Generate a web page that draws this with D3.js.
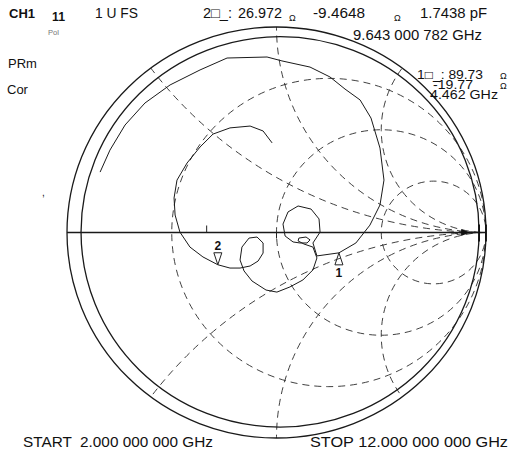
<!DOCTYPE html>
<html>
<head>
<meta charset="utf-8">
<script src="https://d3js.org/d3.v7.min.js"></script>
<style type="text/css">

  body{
    background: white;
    margin: 0px;
  }

  svg text{
    font-family: 'Liberation Sans', Arial, sans-serif;
    fill: #111;
    white-space: pre;
  }

  .rim{
    fill: none;
    stroke: #1a1a1a;
    stroke-width: 1.3;
  }

  .grid{
    fill: none;
    stroke: #2a2a2a;
    stroke-width: 0.9;
    stroke-dasharray: 7,5;
  }

  .trace{
    fill: none;
    stroke: #1a1a1a;
    stroke-width: 1;
    stroke-linejoin: round;
  }

</style>
</head>
<body>

<svg id="chart" width="513" height="455"></svg>

<script>

// smith chart grid (normalised resistance circles / reactance arcs)
var resistances = [1/3, 1, 3];
var reactances = [0.5, 1, 2, -0.5, -1, -2];

// second rim drawn by the plotter, in gamma units
var rimCenterRe = 0.017;
var rimCenterIm = 0.003;
var rimRadius = 0.95;

// S11 trace, reflection coefficient
var traceRe = [-0.842, -0.795, -0.723, -0.628, -0.508, -0.365, -0.236, -0.045, 0.026, 0.160,
               0.255, 0.327, 0.399, 0.451, 0.494, 0.513, 0.494, 0.446, 0.379, 0.298,
               0.193, 0.174, 0.208, 0.203, 0.165, 0.103, 0.055, 0.031, 0.041, 0.079,
               0.112, 0.146, 0.160, 0.141, 0.107, 0.103, 0.131, 0.174, 0.193, 0.174,
               0.126, 0.064, 0.002, -0.050, -0.117, -0.155, -0.174, -0.165, -0.131, -0.093,
               -0.064, -0.064, -0.088, -0.126, -0.174, -0.222, -0.280, -0.351, -0.413, -0.461,
               -0.484, -0.489, -0.475, -0.427, -0.365, -0.303, -0.222, -0.126, -0.064, -0.021];
var traceIm = [0.294, 0.401, 0.523, 0.630, 0.718, 0.791, 0.849, 0.854, 0.835, 0.805,
               0.757, 0.698, 0.645, 0.557, 0.411, 0.255, 0.134, 0.036, -0.051, -0.099,
               -0.114, -0.051, 0.002, 0.066, 0.114, 0.129, 0.100, 0.041, -0.017, -0.046,
               -0.051, -0.051, -0.036, -0.022, -0.027, -0.041, -0.056, -0.071, -0.124, -0.182,
               -0.231, -0.265, -0.290, -0.280, -0.236, -0.187, -0.134, -0.071, -0.027, -0.022,
               -0.051, -0.100, -0.139, -0.163, -0.173, -0.173, -0.157, -0.119, -0.071, 0.002,
               0.085, 0.168, 0.255, 0.338, 0.416, 0.479, 0.509, 0.518, 0.494, 0.436];

// markers: 1 = 4.462 GHz (89.73 - j19.77 ohm), 2 = 9.643 GHz (26.972 - j9.4648 ohm)
var markerNames = ['1', '2'];
var markerRe = [0.298, -0.280];
var markerIm = [-0.099, -0.157];

var svg = d3.select('#chart');

var x = d3.scaleLinear().domain([-1, 1]).range([67, 486]);
var y = d3.scaleLinear().domain([-1, 1]).range([438, 27]);

function rx(r) { return x(r) - x(0); }
function ry(r) { return y(0) - y(r); }

svg.append('clipPath')
  .attr('id', 'unit')
  .append('ellipse')
  .attr('cx', x(0)).attr('cy', y(0))
  .attr('rx', rx(1)).attr('ry', ry(1));

var grid = svg.append('g').attr('clip-path', 'url(#unit)');

// constant resistance circles
grid.selectAll('.rcircle')
  .data(resistances)
  .enter()
  .append('ellipse')
  .attr('class', 'grid rcircle')
  .attr('cx', function(r) { return x(r / (r + 1)); })
  .attr('cy', y(0))
  .attr('rx', function(r) { return rx(1 / (r + 1)); })
  .attr('ry', function(r) { return ry(1 / (r + 1)); });

// constant reactance arcs
grid.selectAll('.xarc')
  .data(reactances)
  .enter()
  .append('ellipse')
  .attr('class', 'grid xarc')
  .attr('cx', x(1))
  .attr('cy', function(v) { return y(1 / v); })
  .attr('rx', function(v) { return rx(1 / Math.abs(v)); })
  .attr('ry', function(v) { return ry(1 / Math.abs(v)); });

// rims
svg.append('ellipse')
  .attr('class', 'rim')
  .attr('cx', x(0)).attr('cy', y(0))
  .attr('rx', rx(1)).attr('ry', ry(1));

svg.append('ellipse')
  .attr('class', 'rim')
  .attr('cx', x(rimCenterRe)).attr('cy', y(rimCenterIm))
  .attr('rx', rx(rimRadius)).attr('ry', ry(rimRadius));

// real axis
svg.append('line')
  .attr('x1', x(-1)).attr('x2', x(1))
  .attr('y1', y(0)).attr('y2', y(0))
  .attr('stroke', '#1a1a1a')
  .attr('stroke-width', 1.3);

[rimCenterRe + rimRadius, 1].forEach(function(g) {
  svg.append('line')
    .attr('x1', x(g)).attr('x2', x(g))
    .attr('y1', y(0) - 8).attr('y2', y(0) + 9)
    .attr('stroke', '#111')
    .attr('stroke-width', 1.8);
});

svg.append('line')
  .attr('x1', x(-1/3)).attr('x2', x(-1/3))
  .attr('y1', y(0) - 7).attr('y2', y(0))
  .attr('stroke', '#222');
svg.append('line')
  .attr('x1', x(0)).attr('x2', x(0))
  .attr('y1', y(0)).attr('y2', y(0) + 6)
  .attr('stroke', '#222');

// reference position arrow
var ax = x(0.905), ay = y(0);
svg.append('path')
  .attr('d', 'M' + (ax - 5) + ',' + (ay - 3.5) + 'L' + (ax + 4) + ',' + ay + 'L' + (ax - 5) + ',' + (ay + 3.5) + 'Z')
  .attr('fill', '#111');

// trace
var line = d3.line()
  .x(function(i) { return x(traceRe[i]); })
  .y(function(i) { return y(traceIm[i]); });

svg.append('path')
  .attr('class', 'trace')
  .attr('d', line(d3.range(traceRe.length)));

// markers
markerNames.forEach(function(name, i) {
  var mx = x(markerRe[i]), my = y(markerIm[i]);
  var up = name === '1';
  var s = up ? 1 : -1;
  svg.append('path')
    .attr('d', 'M' + mx + ',' + my + 'L' + (mx - 4) + ',' + (my + s * 12) + 'L' + (mx + 4) + ',' + (my + s * 12) + 'Z')
    .attr('fill', 'none')
    .attr('stroke', '#222')
    .attr('stroke-width', 1);
  svg.append('text')
    .attr('x', mx)
    .attr('y', up ? my + 24 : my - 15)
    .attr('text-anchor', 'middle')
    .style('font-size', '12px')
    .style('font-weight', 'bold')
    .text(name);
});

// annotation text
function label(txt, lx, ly, size, w, bold) {
  var t = svg.append('text')
    .attr('x', lx)
    .attr('y', ly)
    .style('font-size', size + 'px')
    .text(txt);
  if (w) t.attr('textLength', w).attr('lengthAdjust', 'spacingAndGlyphs');
  if (bold) t.style('font-weight', 'bold');
  return t;
}

label('CH1', 9, 18, 13, 26, true);
label('11', 52, 21, 13, 13, true);
label('Pol', 48, 35, 7, 11).style('fill', '#777');
label('1 U FS', 95, 18, 14, 43);
label('2\u25A1_:', 203, 18, 14, 29);
label('26.972', 238, 18, 14, 44);
label('\u03A9', 289, 21, 9);
label('-9.4648', 313, 18, 14, 52);
label('\u03A9', 394, 21, 9);
label('1.7438 pF', 420, 18, 14, 67);
label('9.643 000 782 GHz', 353, 40, 14, 129);
label('PRm', 8, 68, 13);
label('Cor', 7, 94, 13);
label(',', 42, 196, 10);

label('1\u25A1_: 89.73', 417, 79, 12, 66);
label('-19.77', 433, 89, 12, 40);
label('4.462 GHz', 430, 99, 12, 68);
label('\u03A9', 500, 79, 9);
label('\u03A9', 500, 89, 9);

label('START  2.000 000 000 GHz', 23, 447, 14, 190);
label('STOP 12.000 000 000 GHz', 310, 447, 14, 198);

</script>

</body>
</html>
